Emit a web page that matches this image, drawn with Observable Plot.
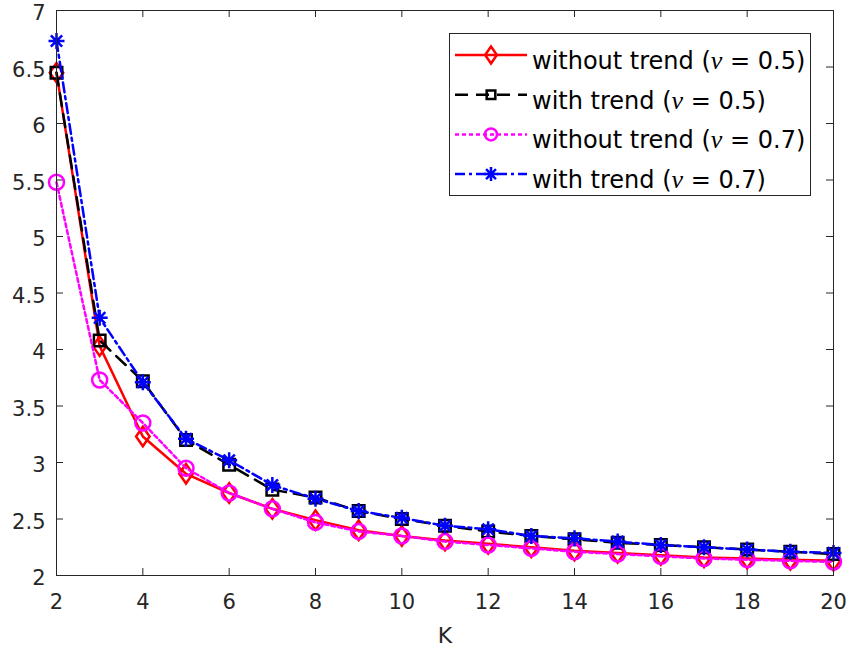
<!DOCTYPE html>
<html>
<head>
<meta charset="utf-8">
<script src="https://cdn.jsdelivr.net/npm/d3@7"></script>
<script src="https://cdn.jsdelivr.net/npm/@observablehq/plot@0.6"></script>
<style>
  html, body { margin: 0; padding: 0; background: #fff; }
  #wrap { position: relative; width: 850px; height: 651px; }
  #legend { position: absolute; left: 449px; top: 33px; }
</style>
</head>
<body>
<div id="wrap"></div>
<script>
// ---- data ----
const K = [2,3,4,5,6,7,8,9,10,11,12,13,14,15,16,17,18,19,20];
const withoutTrend05 = [6.45,4.03,3.23,2.90,2.73,2.59,2.49,2.40,2.35,2.31,2.28,2.25,2.22,2.20,2.18,2.16,2.15,2.14,2.13];
const withTrend05    = [6.45,4.08,3.72,3.20,2.98,2.76,2.69,2.57,2.50,2.44,2.39,2.35,2.32,2.29,2.27,2.25,2.23,2.21,2.19];
const withoutTrend07 = [5.48,3.73,3.35,2.95,2.73,2.59,2.47,2.39,2.35,2.30,2.27,2.24,2.21,2.19,2.17,2.15,2.14,2.13,2.12];
const withTrend07    = [6.73,4.28,3.71,3.21,3.02,2.80,2.68,2.57,2.51,2.44,2.41,2.35,2.33,2.30,2.27,2.25,2.23,2.21,2.20];
const seriesNames = ["without trend (ν = 0.5)","with trend (ν = 0.5)","without trend (ν = 0.7)","with trend (ν = 0.7)"];
const xTicks = [2,4,6,8,10,12,14,16,18,20];
const yTicks = [2,2.5,3,3.5,4,4.5,5,5.5,6,6.5,7];

// ---- marker symbols ----
const symDiamond = {draw(c, s){ const r = Math.sqrt(s/Math.PI); c.moveTo(0,-r*1.3); c.lineTo(r*0.9,0); c.lineTo(0,r*1.3); c.lineTo(-r*0.9,0); c.closePath(); }};
const symSquare = {draw(c, s){ const r = Math.sqrt(s/Math.PI)*0.72; c.rect(-r,-r,2*r,2*r); }};
const symCircle = {draw(c, s){ const r = Math.sqrt(s/Math.PI); c.moveTo(r,0); c.arc(0,0,r,0,2*Math.PI); }};
const symStar = {draw(c, s){ const r = Math.sqrt(s/Math.PI); for (let i=0;i<4;i++){ const a=i*Math.PI/4; c.moveTo(-r*Math.cos(a),-r*Math.sin(a)); c.lineTo(r*Math.cos(a),r*Math.sin(a)); } }};

const styles = [
  {color:"#FF0000", dash:null, sym:symDiamond, r:7.5, lr:6.5},
  {color:"#000000", dash:"13,8", sym:symSquare, r:8, lr:6},
  {color:"#FF00FF", dash:"4,3", sym:symCircle, r:7.5, lr:6},
  {color:"#0000FF", dash:"10,4,3,4", sym:symStar, r:8, lr:7}
];
const values = [withoutTrend05, withTrend05, withoutTrend07, withTrend07];

const rows = [];
values.forEach((vals, si) => vals.forEach((v, i) => rows.push({series: seriesNames[si], si, K: K[i], v})));

const W = 850, H = 651, mL = 56, mR = 17, mT = 10, mB = 76;
const pw = W - mL - mR, ph = H - mT - mB;
const tickLen = 7;
const axisColor = "#262626";

const marks = [];
values.forEach((vals, si) => {
  const st = styles[si];
  const d = rows.filter(r => r.si === si);
  marks.push(Plot.line(d, {x: "K", y: "v", stroke: st.color, strokeWidth: 2.5, strokeDasharray: st.dash}));
  marks.push(Plot.dot(d, {x: "K", y: "v", stroke: st.color, strokeWidth: 2.5, fill: "none", symbol: st.sym, r: st.r}));
});

const chart = Plot.plot({
  width: W, height: H,
  marginLeft: mL, marginRight: mR, marginTop: mT, marginBottom: mB,
  style: {fontFamily: "'DejaVu Sans', sans-serif", fontSize: "21px", color: axisColor, background: "#fff", overflow: "visible"},
  x: {domain: [2, 20], ticks: xTicks},
  y: {domain: [2, 7], ticks: yTicks},
  marks: [
    // inward ticks on all four sides
    Plot.tickY(yTicks, {y: d => d, stroke: axisColor, insetRight: pw - tickLen}),
    Plot.tickY(yTicks, {y: d => d, stroke: axisColor, insetLeft: pw - tickLen}),
    Plot.tickX(xTicks, {x: d => d, stroke: axisColor, insetTop: ph - tickLen}),
    Plot.tickX(xTicks, {x: d => d, stroke: axisColor, insetBottom: ph - tickLen}),
    Plot.axisY({ticks: yTicks, tickSize: 0, tickPadding: 11, dy: 3, label: null, fill: axisColor, fontSize: 21, tickFormat: d => String(d)}),
    Plot.axisX({ticks: xTicks, tickSize: 0, tickPadding: 19, label: null, fill: axisColor, fontSize: 21, tickFormat: d => String(d)}),
    Plot.text(["K"], {frameAnchor: "bottom", dy: 67, lineAnchor: "bottom", text: d => d, fontSize: 22, fill: axisColor}),
    ...marks,
    Plot.frame({stroke: axisColor, strokeWidth: 1})
  ]
});
document.getElementById("wrap").appendChild(chart);

// ---- legend (overlay inside axes) ----
const lw = 362, lh = 163;
const leg = d3.select("#wrap").append("svg").attr("id", "legend")
  .attr("width", lw).attr("height", lh)
  .style("font-family", "'DejaVu Sans', sans-serif");
leg.append("rect").attr("x", 0.5).attr("y", 0.5).attr("width", lw - 1).attr("height", lh - 1)
  .attr("fill", "#fff").attr("stroke", axisColor).attr("stroke-width", 1);
seriesNames.forEach((name, i) => {
  const st = styles[i];
  const yc = 22 + i * 39.7;
  const g = leg.append("g");
  g.append("line").attr("x1", 6).attr("x2", 78).attr("y1", yc).attr("y2", yc)
    .attr("stroke", st.color).attr("stroke-width", 2.5).attr("stroke-dasharray", st.dash);
  const p = d3.path();
  st.sym.draw(p, Math.PI * st.lr * st.lr);
  g.append("path").attr("d", p.toString()).attr("transform", `translate(42,${yc})`)
    .attr("fill", "none").attr("stroke", st.color).attr("stroke-width", 2.5);
  const t = g.append("text").attr("x", 83).attr("y", yc + 14).attr("font-size", 24).attr("fill", "#000");
  const parts = name.split("ν");
  t.append("tspan").text(parts[0]);
  t.append("tspan").attr("font-style", "italic").attr("font-family", "'Liberation Serif', serif").attr("font-size", 26).text("ν");
  t.append("tspan").text(parts[1]);
});
</script>
</body>
</html>
